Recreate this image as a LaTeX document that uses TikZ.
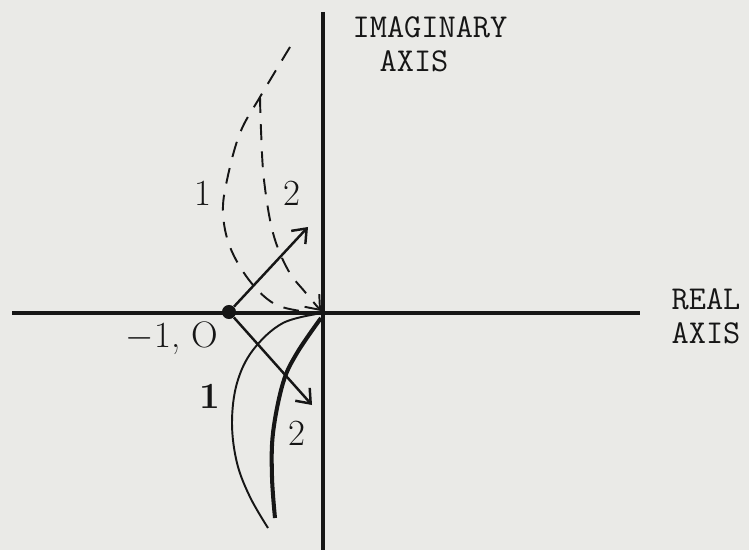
\documentclass[tikz,border=0pt]{standalone}
\usepackage{xcolor}
\usetikzlibrary{arrows.meta}
\definecolor{paper}{RGB}{234,234,231}
\definecolor{ink}{RGB}{22,22,22}

\begin{document}
\begin{tikzpicture}[x=0.02cm,y=-0.02cm,
    axisline/.style={ink,line width=2.8pt},
    vec/.style={ink,line width=1.4pt,-{Straight Barb[length=7pt,width=11pt,line width=1.4pt]}},
    locus/.style={ink,line width=1.1pt,dash pattern=on 9pt off 6.5pt},
    typed/.style={ink,inner sep=0.5pt,font=\ttfamily\fontsize{19}{19.5}\selectfont},
    hand/.style={ink,font=\fontsize{21}{24}\selectfont}]
  \fill[paper] (0,0) rectangle (749,550);
  \useasboundingbox (0,0) rectangle (749,550);
  % axes
  \coordinate (O) at (323,313);
  \draw[axisline] (12,313) -- (640,313);
  \draw[axisline] (323,12) -- (323,550);
  \node[typed] (imag1) at (430,27) {IMAGINARY};
  \node[typed] (imag2) at (414,61) {AXIS};
  \node[typed,align=left] (real) at (706,316) {REAL\\AXIS};
  % the -1,0 point and the two vectors
  \node[circle,fill=ink,inner sep=0pt,minimum size=8pt] (m1) at (229,312) {};
  \node[hand] (m1lab) at (172,338) {$-$1, O};
  \coordinate (tip1) at (308,227);
  \coordinate (tip2) at (312,405);
  \draw[vec] (m1) -- (tip1);
  \draw[vec] (m1) -- (tip2);
  % dashed loci (upper half)
  \draw[locus] plot[smooth,tension=0.6] coordinates {(290,47) (260,97) (240,133) (227,180) (223,213) (230,247) (249,280) (273,303) (300,311) (323,313)};
  \draw[locus,-{Straight Barb[length=7pt,width=11pt,line width=1.1pt]}] plot[smooth,tension=0.6] coordinates {(260,97) (261,130) (264,180) (273,233) (288,270) (305,292) (321,311)};
  \node[hand] (up1) at (203,193) {1};
  \node[hand] (up2) at (292,193) {2};
  % solid loci (lower half)
  \draw[ink,line width=1.1pt] plot[smooth,tension=0.6] coordinates {(323,313) (283,323) (253,350) (237,383) (232,423) (237,463) (250,497) (268,528)};
  \draw[ink,line width=2.3pt] plot[smooth,tension=0.6] coordinates {(321,318) (297,353) (283,383) (273,433) (272,477) (275,518)};
  \node[hand,font=\bfseries\fontsize{21}{24}\selectfont] (low1) at (210,396) {1};
  \node[hand] (low2) at (297,433) {2};
\end{tikzpicture}
\end{document}
